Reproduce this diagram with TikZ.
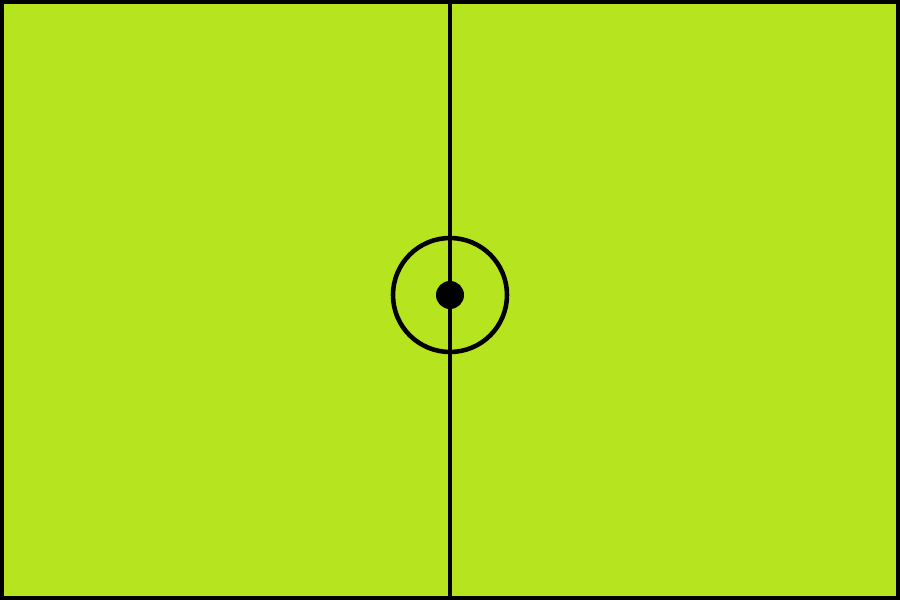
\documentclass[tikz,border=0pt]{standalone}
\usepackage{xcolor}
\usepackage{tikz}
\usetikzlibrary{positioning}
\definecolor{pitchgreen}{RGB}{182,229,32}

\begin{document}
\begin{tikzpicture}[line width=1.3pt]
  \useasboundingbox (0,0) rectangle (9,6);
  \fill[pitchgreen] (0,0) rectangle (9,6);
  \draw[black,line width=1pt] (0.018,0.018) rectangle (8.982,5.982);
  \coordinate (spot) at (4.5,3.05);
  \draw[black] (4.5,0) -- (4.5,6);
  \draw[black] (spot) circle (0.57);
  \fill[black] (spot) circle (0.14);
\end{tikzpicture}
\end{document}
